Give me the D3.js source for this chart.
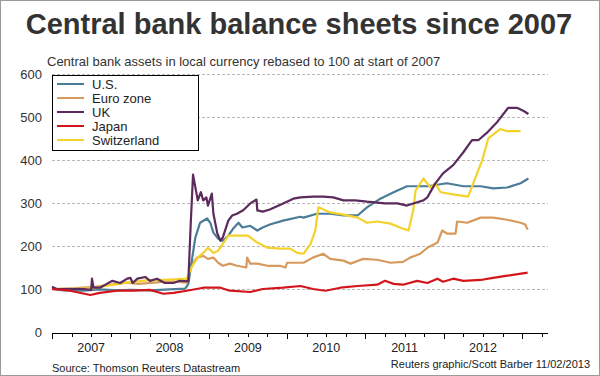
<!DOCTYPE html>
<html><head><meta charset="utf-8">
<script src="https://cdn.jsdelivr.net/npm/d3@7"></script>
<style>body{margin:0;background:#fff}svg{display:block;font-family:"Liberation Sans",Arial,sans-serif}</style>
</head><body><svg id="c" width="600" height="376"></svg>
<script>
const years = [2007, 2008, 2009, 2010, 2011, 2012];
const yTicks = [0, 100, 200, 300, 400, 500, 600];
const seriesNames = ["U.S.", "Euro zone", "UK", "Japan", "Switzerland"];
const seriesColors = ["#4b7c98", "#d79a5e", "#5a2b5c", "#d4161c", "#f4d22c"];

const usData = [[2007.00,100],[2007.15,97],[2007.40,96],[2007.60,99],[2007.85,97],[2008.00,98],[2008.25,97],[2008.50,99],[2008.70,101],[2008.74,112],[2008.79,173],[2008.83,220],[2008.89,254],[2008.98,264],[2009.02,254],[2009.06,231],[2009.12,217],[2009.18,212],[2009.25,224],[2009.31,240],[2009.38,254],[2009.43,243],[2009.53,247],[2009.62,236],[2009.69,243],[2009.78,250],[2009.95,259],[2010.17,268],[2010.21,266],[2010.38,275],[2010.55,275],[2010.72,271],[2010.90,271],[2011.02,290],[2011.19,310],[2011.36,325],[2011.53,339],[2011.79,339],[2012.04,346],[2012.25,339],[2012.47,339],[2012.63,334],[2012.81,336],[2012.98,346],[2013.08,357]];
const euroData = [[2007.00,100],[2007.30,102],[2007.55,105],[2007.75,110],[2007.95,115],[2008.10,112],[2008.30,115],[2008.50,118],[2008.72,115],[2008.79,159],[2008.85,173],[2008.93,177],[2008.99,170],[2009.06,173],[2009.12,161],[2009.18,154],[2009.27,159],[2009.36,154],[2009.48,150],[2009.49,173],[2009.53,159],[2009.62,159],[2009.75,154],[2009.91,154],[2009.98,150],[2010.00,161],[2010.21,161],[2010.33,173],[2010.46,182],[2010.55,170],[2010.72,166],[2010.81,159],[2010.97,170],[2011.15,168],[2011.32,161],[2011.48,163],[2011.57,173],[2011.70,182],[2011.79,196],[2011.92,208],[2011.98,236],[2012.04,229],[2012.15,229],[2012.17,257],[2012.30,254],[2012.47,266],[2012.63,266],[2012.81,261],[2012.98,254],[2013.04,250],[2013.07,238]];
const ukData = [[2007.00,105],[2007.06,100],[2007.40,100],[2007.50,98],[2007.51,124],[2007.53,103],[2007.61,103],[2007.70,112],[2007.77,119],[2007.87,114],[2007.96,124],[2008.00,126],[2008.03,114],[2008.09,124],[2008.19,128],[2008.25,119],[2008.34,124],[2008.44,114],[2008.55,114],[2008.63,119],[2008.74,118],[2008.77,250],[2008.80,366],[2008.86,306],[2008.90,325],[2008.93,306],[2008.97,313],[2008.99,294],[2009.04,322],[2009.06,275],[2009.11,229],[2009.15,212],[2009.18,220],[2009.25,259],[2009.30,271],[2009.36,275],[2009.44,283],[2009.53,299],[2009.61,308],[2009.62,283],[2009.69,280],[2009.78,285],[2009.95,299],[2010.08,310],[2010.17,313],[2010.33,315],[2010.46,315],[2010.59,313],[2010.72,306],[2010.87,306],[2011.02,303],[2011.15,301],[2011.25,299],[2011.41,299],[2011.53,294],[2011.61,299],[2011.74,306],[2011.79,313],[2011.89,345],[2011.99,369],[2012.12,388],[2012.25,418],[2012.36,446],[2012.44,446],[2012.56,465],[2012.68,488],[2012.82,521],[2012.94,521],[2013.02,514],[2013.08,507]];
const japanData = [[2007.00,100],[2007.23,96],[2007.49,86],[2007.61,91],[2007.83,96],[2008.03,96],[2008.25,98],[2008.42,89],[2008.55,91],[2008.72,96],[2008.93,103],[2009.15,103],[2009.27,96],[2009.53,93],[2009.69,100],[2009.95,103],[2010.17,107],[2010.33,100],[2010.49,96],[2010.68,103],[2010.90,107],[2011.15,110],[2011.25,119],[2011.36,112],[2011.48,110],[2011.66,119],[2011.79,114],[2011.92,124],[2011.99,117],[2012.12,124],[2012.25,119],[2012.47,121],[2012.63,126],[2012.81,131],[2013.07,138]];
const swissData = [[2007.00,100],[2007.30,100],[2007.55,102],[2007.70,108],[2007.96,115],[2008.20,120],[2008.50,122],[2008.72,124],[2008.79,154],[2008.86,173],[2008.93,184],[2008.99,196],[2009.06,184],[2009.12,189],[2009.18,205],[2009.25,224],[2009.31,224],[2009.43,224],[2009.50,224],[2009.62,208],[2009.75,196],[2009.91,194],[2010.04,194],[2010.13,184],[2010.21,182],[2010.30,205],[2010.36,236],[2010.40,290],[2010.55,278],[2010.72,273],[2010.90,266],[2011.02,254],[2011.15,257],[2011.32,252],[2011.44,243],[2011.55,236],[2011.61,283],[2011.64,329],[2011.74,357],[2011.83,336],[2011.89,346],[2011.96,325],[2012.12,320],[2012.31,315],[2012.49,399],[2012.57,451],[2012.72,472],[2012.81,467],[2012.98,467]];
const allData = [usData, euroData, ukData, japanData, swissData];

const svg = d3.select("#c");
const x = d3.scaleLinear().domain([2007, 2013.33]).range([52, 548]);
const y = d3.scaleLinear().domain([0, 600]).range([332, 74]);

svg.append("rect").attr("x",0.5).attr("y",0.5).attr("width",599).attr("height",375)
  .attr("fill","#fff").attr("stroke","#9a9a9a");

svg.append("text").attr("x",299).attr("y",34).attr("text-anchor","middle")
  .attr("font-size",29).attr("font-weight","bold").attr("fill","#333")
  .text("Central bank balance sheets since 2007");
svg.append("text").attr("x",47).attr("y",66).attr("font-size",13).attr("fill","#333")
  .text("Central bank assets in local currency rebased to 100 at start of 2007");

// grid
svg.append("g").selectAll("line").data(yTicks.filter(d=>d>0)).join("line")
  .attr("x1",52).attr("x2",548).attr("y1",d=>Math.round(y(d))+0.5).attr("y2",d=>Math.round(y(d))+0.5)
  .attr("stroke","#b8b8b8").attr("stroke-dasharray","3,2");

// y labels
svg.append("g").selectAll("text").data(yTicks).join("text")
  .attr("x",42).attr("y",d=>y(d)+4.5).attr("text-anchor","end").attr("font-size",13).attr("fill","#333")
  .text(d=>d);

// x axis
const xa = svg.append("g").attr("transform","translate(0,333)");
xa.append("line").attr("x1",52).attr("x2",548).attr("y1",0.5).attr("y2",0.5).attr("stroke","#000");
const quarters = d3.range(2007, 2013.3, 0.25);
xa.selectAll("line.t").data(quarters).join("line").attr("class","t")
  .attr("x1",d=>Math.round(x(d))+0.5).attr("x2",d=>Math.round(x(d))+0.5)
  .attr("y1",0).attr("y2",d=>Math.abs(d-Math.round(d))<0.01?6:4).attr("stroke","#000");
xa.selectAll("text").data(years).join("text")
  .attr("x",d=>x(d+0.5)).attr("y",19).attr("text-anchor","middle").attr("font-size",12.5).attr("fill","#222")
  .text(d=>d);

// lines
const line = d3.line().x(d=>x(d[0])).y(d=>y(d[1]));
const order = [1, 0, 4, 2, 3];
svg.append("g").selectAll("path").data(order).join("path")
  .attr("d",i=>line(allData[i])).attr("fill","none").attr("stroke",i=>seriesColors[i])
  .attr("stroke-width",2.2).attr("stroke-linejoin","round");

// legend
const lg = svg.append("g");
lg.append("rect").attr("x",52.5).attr("y",75.5).attr("width",146).attr("height",75)
  .attr("fill","#fff").attr("stroke","#000");
const items = lg.selectAll("g").data(seriesNames).join("g")
  .attr("transform",(d,i)=>`translate(0,${84+i*14})`);
items.append("line").attr("x1",57).attr("x2",84).attr("y1",0).attr("y2",0)
  .attr("stroke",(d,i)=>seriesColors[i]).attr("stroke-width",2);
items.append("text").attr("x",92).attr("y",4.5).attr("font-size",13).attr("fill","#222").text(d=>d);

svg.append("text").attr("x",52).attr("y",372).attr("font-size",11).attr("fill","#222")
  .text("Source: Thomson Reuters Datastream");
svg.append("text").attr("x",590).attr("y",368).attr("text-anchor","end").attr("font-size",11).attr("fill","#222")
  .text("Reuters graphic/Scott Barber 11/02/2013");
</script></body></html>
